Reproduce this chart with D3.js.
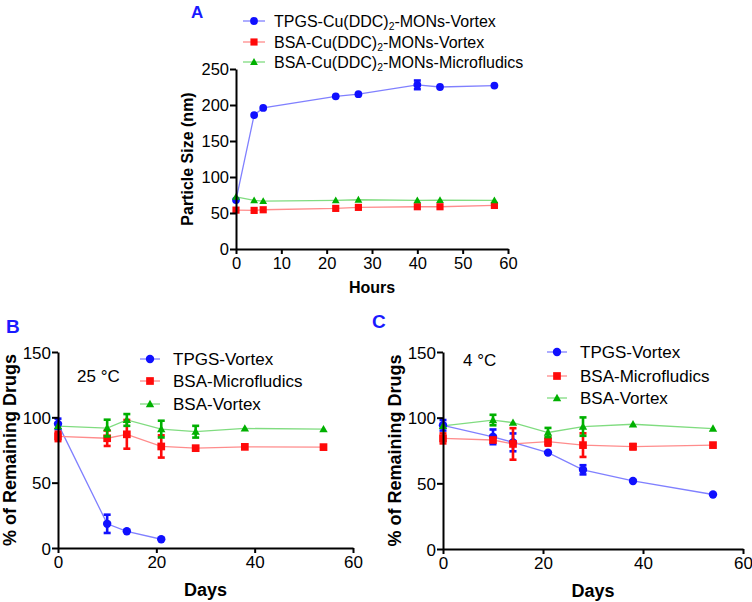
<!DOCTYPE html>
<html>
<head>
<meta charset="utf-8">
<script src="https://cdn.jsdelivr.net/npm/d3@7"></script>
<style>
  body { margin: 0; background: #fff; }
  svg { display: block; font-family: "Liberation Sans", Arial, sans-serif; }
</style>
</head>
<body>
<svg id="chart" width="752" height="602"></svg>
<script>
// ---------- DATA ----------
const hoursA = [0, 4, 6, 22, 27, 40, 45, 57];
const tpgsA   = [68, 186, 196, 212, 215, 228, 225, 227];
const tpgsAErr = [0, 0, 0, 0, 0, 6, 0, 0];
const bsaVortexA = [54, 53.6, 54.5, 56.4, 57.8, 58.7, 58.7, 60.5];
const bsaVortexAErr = [0, 0, 0, 0, 0, 0, 0, 0];
const bsaMicroA = [72.5, 67.5, 66.5, 67.5, 68.4, 67.5, 68, 67.5];
const bsaMicroAErr = [0, 0, 0, 0, 0, 0, 0, 0];
const legendA = ["TPGS-Cu(DDC)", "BSA-Cu(DDC)", "BSA-Cu(DDC)"];
const legendASuffix = ["-MONs-Vortex", "-MONs-Vortex", "-MONs-Microfludics"];

const daysB = [0, 10, 14, 21, 28, 38, 54];
const tpgsB = [95, 18.5, 12.8, 6.7];
const tpgsBErr = [4, 7, 0, 0];
const microB = [85.4, 84, 87, 77.7, 76.4, 77.4, 77.2];
const microBErr = [3.6, 5.9, 11, 8.5, 0, 0, 0];
const vortexB = [93.3, 91.8, 98, 91, 89, 91.5, 91];
const vortexBErr = [0, 6.4, 4.5, 6.4, 4.5, 0, 0];

const daysC = [0, 10, 14, 21, 28, 38, 54];
const tpgsC = [94.2, 85.4, 81.2, 73.4, 60.3, 51.8, 41.5];
const tpgsCErr = [4, 5.6, 6.8, 0, 3.5, 0, 0];
const microC = [84.2, 83, 80, 81.7, 79.1, 77.9, 79.1];
const microCErr = [3.8, 0, 12, 3, 9, 2, 0];
const vortexC = [93.7, 98.2, 96.2, 88.7, 93.2, 95, 91.7];
const vortexCErr = [0, 4, 0, 3.5, 7, 0, 0];
const legendBC = ["TPGS-Vortex", "BSA-Microfludics", "BSA-Vortex"];

const ticksAx = [0, 10, 20, 30, 40, 50, 60];
const ticksAy = [0, 50, 100, 150, 200, 250];
const ticksBCx = [0, 20, 40, 60];
const ticksBCy = [0, 50, 100, 150];

// ---------- STYLE ----------
const styles = [
  { marker: "circle",   fill: "#1010ff", line: "#8080ff" },
  { marker: "square",   fill: "#ff0a0a", line: "#ff8c8c" },
  { marker: "triangle", fill: "#00b000", line: "#80dc80" }
];

const svg = d3.select("#chart");

function drawMarker(g, type, x, y, color, s) {
  if (type === "circle") {
    g.append("circle").attr("cx", x).attr("cy", y).attr("r", s * 0.6).attr("fill", color);
  } else if (type === "square") {
    g.append("rect").attr("x", x - s * 0.55).attr("y", y - s * 0.55)
      .attr("width", s * 1.1).attr("height", s * 1.1).attr("fill", color);
  } else {
    const h = s * 1.0;
    g.append("path")
      .attr("d", `M${x},${y - h * 0.6}L${x + h * 0.6},${y + h * 0.45}L${x - h * 0.6},${y + h * 0.45}Z`)
      .attr("fill", color);
  }
}

function panel(opt) {
  const g = svg.append("g");
  const x = d3.scaleLinear().domain(opt.xDomain).range([opt.x0, opt.x1]);
  const y = d3.scaleLinear().domain(opt.yDomain).range([opt.y0, opt.y1]);

  opt.series.forEach((s) => {
    const st = styles[s.style];
    const pts = s.values.map((v, j) => ({ x: opt.xs[j], y: v, e: s.err[j] }));
    g.append("path").datum(pts)
      .attr("d", d3.line().x(d => x(d.x)).y(d => y(d.y)))
      .attr("fill", "none").attr("stroke", st.line).attr("stroke-width", 1.3);
  });
  opt.series.forEach((s) => {
    const st = styles[s.style];
    const pts = s.values.map((v, j) => ({ x: opt.xs[j], y: v, e: s.err[j] }));
    pts.forEach(p => {
      if (p.e > 0) {
        const cx = x(p.x);
        g.append("line").attr("x1", cx).attr("x2", cx).attr("y1", y(p.y - p.e)).attr("y2", y(p.y + p.e))
          .attr("stroke", st.fill).attr("stroke-width", 2.6);
        [p.y - p.e, p.y + p.e].forEach(v => {
          g.append("line").attr("x1", cx - 3.5).attr("x2", cx + 3.5).attr("y1", y(v)).attr("y2", y(v))
            .attr("stroke", st.fill).attr("stroke-width", 2.6);
        });
      }
      drawMarker(g, st.marker, x(p.x), y(p.y), st.fill, opt.ms);
    });
  });

  const xa = g.append("g").attr("transform", `translate(0,${opt.y0})`)
    .call(d3.axisBottom(x).tickValues(opt.xTicks).tickSize(5).tickSizeOuter(0).tickPadding(3));
  const ya = g.append("g").attr("transform", `translate(${opt.x0},0)`)
    .call(d3.axisLeft(y).tickValues(opt.yTicks).tickSize(6).tickSizeOuter(0).tickPadding(1));
  [xa, ya].forEach(a => {
    a.select(".domain").attr("stroke", "#000").attr("stroke-width", 2);
    a.selectAll(".tick line").attr("stroke", "#000").attr("stroke-width", 2);
    a.selectAll(".tick text").attr("fill", "#000").style("font-size", opt.tickFont + "px")
      .style("font-family", '"Liberation Sans", Arial, sans-serif');
  });
  ya.selectAll(".tick text").attr("dy", "0.36em");

  g.append("text").attr("x", (opt.x0 + opt.x1) / 2).attr("y", opt.xTitleY)
    .attr("text-anchor", "middle").attr("font-weight", "bold").attr("font-size", opt.titleFont)
    .text(opt.xTitle);
  g.append("text")
    .attr("transform", `translate(${opt.yTitleX},${(opt.y0 + opt.y1) / 2}) rotate(-90)`)
    .attr("text-anchor", "middle").attr("font-weight", "bold").attr("font-size", opt.titleFont)
    .text(opt.yTitle);

  g.append("text").attr("x", opt.letterX).attr("y", opt.letterY)
    .attr("font-weight", "bold").attr("font-size", opt.letterFont).attr("fill", "#1a1aff")
    .text(opt.letter);

  opt.series.forEach((s, i) => {
    const st = styles[s.style];
    const ly = opt.legY[i];
    g.append("line").attr("x1", opt.legX0).attr("x2", opt.legX1).attr("y1", ly).attr("y2", ly)
      .attr("stroke", st.line).attr("stroke-width", 1.3);
    drawMarker(g, st.marker, (opt.legX0 + opt.legX1) / 2, ly, st.fill, opt.ms);
    const t = g.append("text").attr("x", opt.legTextX).attr("y", ly).attr("dy", "0.36em")
      .attr("font-size", opt.legFont).attr("fill", "#000");
    if (s.sub) {
      t.append("tspan").text(s.label);
      t.append("tspan").attr("font-size", opt.legFont * 0.65).attr("dy", "0.3em").text("2");
      t.append("tspan").attr("dy", "-0.2em").text(s.suffix);
    } else {
      t.text(s.label);
    }
  });

  if (opt.note) {
    g.append("text").attr("x", opt.note.x).attr("y", opt.note.y).attr("dy", "0.36em")
      .attr("font-size", opt.legFont).text(opt.note.text);
  }
}

panel({
  xDomain: [0, 60], yDomain: [0, 250],
  x0: 236, x1: 508, y0: 249, y1: 69,
  xs: hoursA, xTicks: ticksAx, yTicks: ticksAy,
  series: [
    { values: tpgsA, err: tpgsAErr, style: 0, label: legendA[0], suffix: legendASuffix[0], sub: true },
    { values: bsaVortexA, err: bsaVortexAErr, style: 1, label: legendA[1], suffix: legendASuffix[1], sub: true },
    { values: bsaMicroA, err: bsaMicroAErr, style: 2, label: legendA[2], suffix: legendASuffix[2], sub: true }
  ],
  ms: 6.5, tickFont: 16.5, titleFont: 16, legFont: 16,
  xTitle: "Hours", xTitleY: 293, yTitle: "Particle Size (nm)", yTitleX: 193,
  letter: "A", letterX: 191, letterY: 18, letterFont: 17,
  legX0: 243, legX1: 265, legTextX: 274, legY: [21, 42, 62]
});

panel({
  xDomain: [0, 60], yDomain: [0, 150],
  x0: 58, x1: 353, y0: 548, y1: 352,
  xs: daysB, xTicks: ticksBCx, yTicks: ticksBCy,
  series: [
    { values: tpgsB, err: tpgsBErr, style: 0, label: legendBC[0] },
    { values: microB, err: microBErr, style: 1, label: legendBC[1] },
    { values: vortexB, err: vortexBErr, style: 2, label: legendBC[2] }
  ],
  ms: 7, tickFont: 17, titleFont: 18, legFont: 17,
  xTitle: "Days", xTitleY: 596, yTitle: "% of Remaining Drugs", yTitleX: 16,
  letter: "B", letterX: 6, letterY: 333, letterFont: 19,
  legX0: 140, legX1: 160, legTextX: 173, legY: [359, 381, 404],
  note: { x: 77, y: 376, text: "25 °C" }
});

panel({
  xDomain: [0, 60], yDomain: [0, 150],
  x0: 443, x1: 743, y0: 549, y1: 352,
  xs: daysC, xTicks: ticksBCx, yTicks: ticksBCy,
  series: [
    { values: tpgsC, err: tpgsCErr, style: 0, label: legendBC[0] },
    { values: microC, err: microCErr, style: 1, label: legendBC[1] },
    { values: vortexC, err: vortexCErr, style: 2, label: legendBC[2] }
  ],
  ms: 7, tickFont: 17, titleFont: 18, legFont: 17,
  xTitle: "Days", xTitleY: 597, yTitle: "% of Remaining Drugs", yTitleX: 401,
  letter: "C", letterX: 372, letterY: 328, letterFont: 19,
  legX0: 547, legX1: 567, legTextX: 580, legY: [352, 376, 398],
  note: { x: 463, y: 360, text: "4 °C" }
});
</script>
</body>
</html>
